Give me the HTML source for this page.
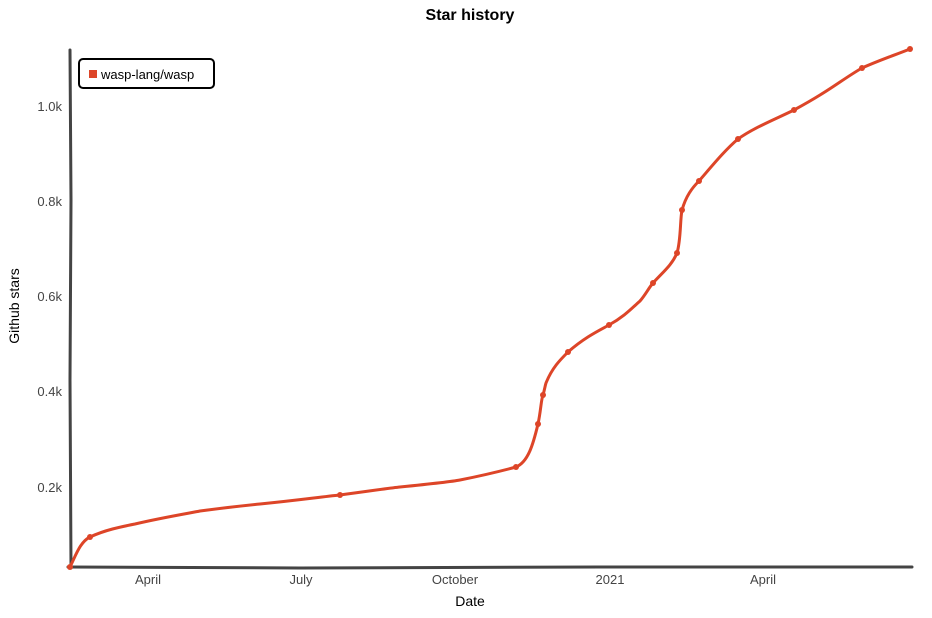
<!DOCTYPE html>
<html><head><meta charset="utf-8"><style>
body{margin:0;background:#fff;}
svg{display:block;font-family:"Liberation Sans",sans-serif;}
</style></head><body>
<svg width="932" height="618" viewBox="0 0 932 618">
<rect width="932" height="618" fill="#fff"/>
<text x="470" y="20" text-anchor="middle" font-size="16" font-weight="bold" fill="#000">Star history</text>
<g stroke="#444" stroke-width="3" fill="none" stroke-linecap="round">
<path d="M70,50 L71,200 L70,380 L71,568"/>
<path d="M68,567 L300,568 L600,567 L912,567"/>
</g>
<g font-size="13" fill="#444" text-anchor="end">
<text x="62" y="111">1.0k</text>
<text x="62" y="206">0.8k</text>
<text x="62" y="301">0.6k</text>
<text x="62" y="396">0.4k</text>
<text x="62" y="492">0.2k</text>
</g>
<g font-size="13" fill="#444" text-anchor="middle">
<text x="148" y="584">April</text>
<text x="301" y="584">July</text>
<text x="455" y="584">October</text>
<text x="610" y="584">2021</text>
<text x="763" y="584">April</text>
</g>
<text x="470" y="606" text-anchor="middle" font-size="14" fill="#000">Date</text>
<text transform="translate(19,306) rotate(-90)" text-anchor="middle" font-size="14" fill="#000">Github stars</text>
<path fill="none" stroke="#dd4528" stroke-width="3" stroke-linejoin="round" stroke-linecap="round"
d="M70,567 C76,555 80,542 90,537 C105,530 120,527 135,524 C160,518 190,513 200,511 C230,507 250,505 260,504 C300,500 320,497 340,495 C370,491 390,488 400,487 C430,484 450,482 460,480 C490,474 505,470 516,467 C528,462 533,445 538,424 C541,410 541,400 543,395 C545,388 545,386 546,383 C552,368 560,360 568,352 C585,337 600,330 609,325 C625,316 632,308 640,301 C646,294 648,289 653,283 C663,272 672,265 677,253 C681,240 680,220 682,210 C686,196 692,188 699,181 C712,166 725,150 738,139 C755,127 778,118 794,110 C805,104 812,100 820,95 C835,86 848,76 862,68 C880,60 895,55 910,49"/>
<g fill="#dd4528">
<circle cx="70" cy="567" r="3"/><circle cx="90" cy="537" r="3"/><circle cx="340" cy="495" r="3"/>
<circle cx="516" cy="467" r="3"/><circle cx="538" cy="424" r="3"/><circle cx="543" cy="395" r="3"/>
<circle cx="568" cy="352" r="3"/><circle cx="609" cy="325" r="3"/><circle cx="653" cy="283" r="3"/>
<circle cx="677" cy="253" r="3"/><circle cx="682" cy="210" r="3"/><circle cx="699" cy="181" r="3"/>
<circle cx="738" cy="139" r="3"/><circle cx="794" cy="110" r="3"/><circle cx="862" cy="68" r="3"/>
<circle cx="910" cy="49" r="3"/>
</g>
<rect x="79" y="59" width="135" height="29" rx="4" fill="#fff" stroke="#000" stroke-width="2"/>
<rect x="89" y="70" width="8" height="8" fill="#dd4528"/>
<text x="101" y="79" font-size="13" fill="#000">wasp-lang/wasp</text>
</svg>
</body></html>
